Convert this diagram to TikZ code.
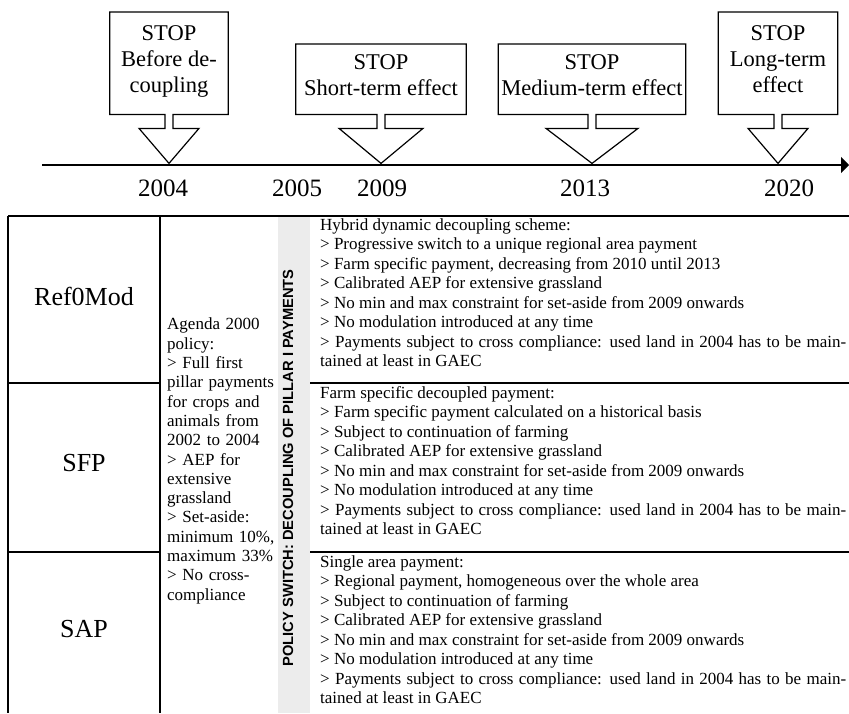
\documentclass[tikz,border=0pt]{standalone}
\usepackage{fontspec}
\setmainfont{Liberation Serif}
\newfontfamily\switchfont{Liberation Sans}
\usepackage{tikz}
\usetikzlibrary{arrows.meta,positioning,calc}

% the last four items are the same in all three schemes
\newcommand{\commonrules}{%
> Calibrated AEP for extensive grassland\\
> No min and max constraint for set-aside from 2009 onwards\\
> No modulation introduced at any time\\
> Payments subject to cross compliance: used land in 2004 has to be main\-tained at least in GAEC}

\begin{document}
\begin{tikzpicture}[x=1pt,y=-1pt,
  outline/.style={line width=1.2pt},
  stopbox/.style={align=center, anchor=north, inner sep=0pt,
    font=\fontsize{22.5}{26}\selectfont, execute at end node=\strut},
  year/.style={font=\fontsize{25}{30}\selectfont},
  rule/.style={line width=1.2pt},
  variant/.style={font=\fontsize{26}{30}\selectfont},
  scheme/.style={anchor=north west, inner sep=0pt, text width=526pt, align=justify,
    font=\fontsize{17}{19.5}\selectfont}]
  \useasboundingbox (0,0) rectangle (849,713);

  % time axis
  \coordinate (tl start) at (42,165);
  \coordinate (tl end) at (849,165);
  \draw[line width=1.6pt,-{Triangle[length=8pt,width=16pt]}] (tl start) -- (tl end);
  \foreach \yr/\x in {2004/163,2005/297,2009/382,2013/585,2020/789}{
    \node[year] (y\yr) at (\x,188) {\yr};
  }

  % stop callouts: name / centre / top / width / height / half arrow
  \foreach \nm/\cx/\ytop/\bw/\bh/\half/\lbl in {
      before/169/12/118pt/102pt/30/{STOP\\Before de-\\coupling},
      short/381/44/170pt/70pt/42/{STOP\\Short-term effect},
      medium/592/44/187pt/70pt/46/{STOP\\Medium-term effect},
      long/778/12/119pt/102pt/30/{STOP\\Long-term\\effect}}{
    \node[stopbox, minimum width=\bw, minimum height=\bh] (\nm) at (\cx,\ytop) {\lbl};
    \draw[outline] ($(\nm.south)+(-4,0)$) -- (\nm.south west) -- (\nm.north west)
      -- (\nm.north east) -- (\nm.south east) -- ($(\nm.south)+(4,0)$) -- ++(0,14)
      -- ++({\half-4},0) -- ($(\nm.south)+(0,49)$) -- ($(\nm.south)+(-\half,14)$)
      -- ++({\half-4},0) -- cycle;
  }

  % table
  \fill[gray!15] (278,216) rectangle (310,713);
  \draw[rule] (8,216) -- (849,216);
  \draw[rule] (8,216) -- (8,713);
  \draw[rule] (160,216) -- (160,713);
  \draw[rule] (8,383) -- (160,383);
  \draw[rule] (8,552) -- (160,552);
  \draw[rule] (310,383) -- (849,383);
  \draw[rule] (310,552) -- (849,552);

  \node[variant] (ref0mod) at (84,296) {Ref0Mod};
  \node[variant] (sfp) at (84,463) {SFP};
  \node[variant] (sap) at (84,629) {SAP};

  \node[anchor=west, inner sep=0pt, text width=112pt, align=left,
    font=\fontsize{17}{19.3}\selectfont] (agenda) at (167,461)
    {Agenda 2000\\policy:\\> Full first\\pillar payments\\for crops and\\animals from\\2002 to 2004\\> AEP for\\extensive\\grassland\\> Set-aside:\\minimum 10\%,\\maximum 33\%\\> No cross-\\compliance};

  \node[rotate=90, inner sep=0pt, font=\switchfont\bfseries\fontsize{14.7}{16}\selectfont]
    (switch) at (288,468) {POLICY SWITCH: DECOUPLING OF PILLAR I PAYMENTS};

  \node[scheme] (ref0modtext) at (320,218) {Hybrid dynamic decoupling scheme:\\
    > Progressive switch to a unique regional area payment\\
    > Farm specific payment, decreasing from 2010 until 2013\\
    \commonrules};
  \node[scheme] (sfptext) at (320,386) {Farm specific decoupled payment:\\
    > Farm specific payment calculated on a historical basis\\
    > Subject to continuation of farming\\
    \commonrules};
  \node[scheme] (saptext) at (320,555) {Single area payment:\\
    > Regional payment, homogeneous over the whole area\\
    > Subject to continuation of farming\\
    \commonrules};
\end{tikzpicture}
\end{document}
